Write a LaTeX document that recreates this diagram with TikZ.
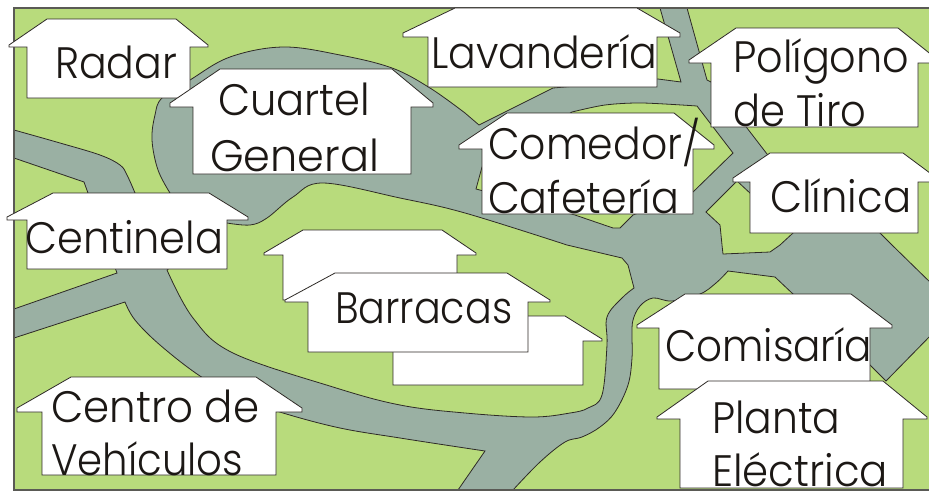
\documentclass[tikz,border=0pt]{standalone}
\usepackage{fontspec}
\usepackage{graphicx}
\setmainfont{Poppins Light}
\definecolor{verde}{HTML}{B8DB7C}
\definecolor{gris}{HTML}{9AB0A3}
\definecolor{linea}{HTML}{2E2A26}
\definecolor{tinta}{HTML}{1C1815}
\definecolor{marco}{HTML}{5A5A55}
\newcommand{\rotulo}[5]{\node[rotulo] (#1) at (#2,#3) {\resizebox{#4pt}{\height}{#5}};}
\tikzset{
  rotulo/.style={anchor=base west,inner sep=0pt,text=tinta,font=\fontsize{44}{44}\selectfont},
  casa/.style={fill=white,draw=linea,line width=0.8pt,line join=miter},
  via/.style={fill=gris,draw=linea,line width=0.8pt},
  isla/.style={fill=verde,draw=linea,line width=0.8pt}
}
\begin{document}
\begin{tikzpicture}[x=1pt,y=-1pt]
\useasboundingbox (0,0) rectangle (929,491);
\fill[white] (0,0) rectangle (929,491);
\fill[verde] (14,8) rectangle (935,490);
% roads
\path[via] (14,130)
  -- plot[smooth,tension=.6] coordinates {(14,130) (60,143) (100,155) (120,165) (127,175) (135,193)}
  -- (155,212) -- (170,193)
  -- plot[smooth,tension=.6] coordinates {(170,193) (158,170) (152,140) (155,115) (162,98) (190,80) (230,57) (283,47) (340,55) (392,68) (430,88) (465,113)}
  -- (479,125) -- (553,88) -- (658,79) -- (681,82) -- (660,8) -- (687,8) -- (707,80) -- (711,82)
  -- (747,128) -- (767,154) -- (880,233) -- (892,245) -- (935,287) -- (935,331) -- (886,381) -- (870,365) -- (793,294)
  -- (775,277) -- (728,271)
  -- plot[smooth,tension=.6] coordinates {(728,271) (716,283) (700,294) (672,301) (653,298) (640,306) (633,320) (632,335) (632,358) (628,385) (615,412) (600,427) (582,437) (565,442) (540,462) (513,490)}
  -- (458,490) -- (485,451) -- (465,448)
  -- plot[smooth,tension=.6] coordinates {(465,448) (400,438) (340,428) (283,413) (240,398) (200,376) (160,345) (135,320) (125,302)}
  -- (14,338) -- (14,309) -- (117,273) -- (88,193) -- (84,182) -- (14,158) -- cycle;
% green islands
\path[isla] (167,270)
  -- plot[smooth,tension=.6] coordinates {(167,270) (193,318) (233,353) (333,387) (400,405) (465,413) (532,417) (570,413) (588,408) (602,395) (607,345) (607,317) (622,298) (634,288)}
  -- (628,265) -- (622,258) -- (567,245)
  -- plot[smooth,tension=.6] coordinates {(567,245) (465,213) (400,198) (323,183) (293,197) (267,218) (250,225) (227,223)}
  -- cycle;
\path[isla] (572,112)
  -- plot[smooth,tension=.5] coordinates {(572,112) (605,105) (642,103) (697,106)}
  -- (733,153) -- (693,192) -- (633,215) -- (620,228) -- (613,228) -- (575,215) -- (476,189) -- (482,167) -- cycle;
\path[isla] (723,254) -- (722,245) -- (720,225) -- (706,212)
  -- (737,181) -- (793,233) -- (780,245) -- (770,252) -- cycle;
% frame
\draw[marco,line width=1.5pt] (935,8) -- (14,8) -- (14,490) -- (935,490);
% houses
\path[casa] (47,19) -- (176,19) -- (208,45) -- (208,47) -- (190,47) -- (190,98) -- (27,98) -- (27,47) -- (9,47) -- (9,45) -- cycle;
\path[casa] (220,69) -- (392,69) -- (433,103) -- (433,107) -- (411,107) -- (411,174) -- (193,174) -- (193,107) -- (170,107) -- (170,103) -- cycle;
\path[casa] (455,8) -- (637,8) -- (680,33) -- (680,37) -- (657,37) -- (657,87) -- (428,87) -- (428,37) -- (403,37) -- (403,33) -- cycle;
\path[casa] (736,28) -- (898,28) -- (938,60) -- (938,63) -- (918,63) -- (918,127) -- (711,127) -- (711,63) -- (689,63) -- (689,60) -- cycle;
\path[casa] (507,113) -- (674,113) -- (714,145) -- (714,149) -- (693,149) -- (693,214) -- (482,214) -- (482,149) -- (459,149) -- (459,145) -- cycle;
\path[casa] (770,153) -- (903,153) -- (938,179) -- (938,182) -- (918,182) -- (918,233) -- (750,233) -- (750,182) -- (733,182) -- (733,178) -- cycle;
\path[casa] (53,193) -- (209,193) -- (248,217) -- (248,220) -- (227,220) -- (227,269) -- (27,269) -- (27,220) -- (7,220) -- (7,217) -- cycle;
\path[casa] (303,230) -- (442,230) -- (476,253) -- (476,255) -- (457,255) -- (457,300) -- (283,300) -- (283,255) -- (264,255) -- (264,253) -- cycle;
\path[casa] (420,316) -- (565,316) -- (602,339) -- (602,341) -- (583,341) -- (583,385) -- (393,385) -- (393,341) -- (375,341) -- (375,339) -- cycle;
\path[casa] (335,273) -- (507,273) -- (550,300) -- (550,302) -- (528,302) -- (528,352) -- (308,352) -- (308,302) -- (285,302) -- (285,300) -- cycle;
\path[casa] (71,377) -- (256,377) -- (302,408) -- (302,412) -- (276,412) -- (276,475) -- (42,475) -- (42,412) -- (17,412) -- (17,408) -- cycle;
\path[casa] (685,294) -- (851,294) -- (892,325) -- (892,328) -- (870,328) -- (870,389) -- (659,389) -- (659,328) -- (637,328) -- (637,325) -- cycle;
\path[casa] (708,381) -- (883,381) -- (927,417) -- (927,419) -- (903,419) -- (903,488) -- (680,488) -- (680,419) -- (657,419) -- (657,417) -- cycle;
% labels
\rotulo{radar}{55}{78}{122}{Radar}
\rotulo{cuartel}{218}{115}{152}{Cuartel}
\rotulo{general}{210}{171}{169}{General}
\rotulo{lavanderia}{431}{68}{226}{Lavandería}
\rotulo{poligono}{733}{72}{176}{Polígono}
\rotulo{detiro}{733}{126}{133}{de Tiro}
\rotulo{comedor}{488}{159}{212}{Comedor/}
\rotulo{cafeteria}{488}{213}{191}{Cafetería}
\rotulo{clinica}{770}{212}{141}{Clínica}
\rotulo{centinela}{25}{253}{198}{Centinela}
\rotulo{barracas}{335}{323}{177}{Barracas}
\rotulo{centro}{51}{422}{208}{Centro de}
\rotulo{vehiculos}{51}{475}{192}{Vehículos}
\rotulo{comisaria}{665}{361}{207}{Comisaría}
\rotulo{planta}{712}{433}{128}{Planta}
\rotulo{electrica}{712}{486}{176}{Eléctrica}
\end{tikzpicture}
\end{document}
